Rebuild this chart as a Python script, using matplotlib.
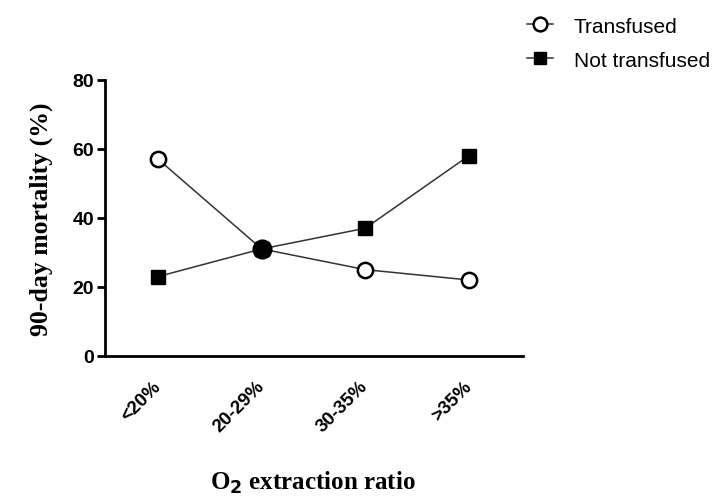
import matplotlib.pyplot as plt

categories = ['<20%', '20-29%', '30-35%', '>35%']
transfused = [57, 31, 25, 22]
not_transfused = [23, 31, 37, 58]
y_ticks = [0, 20, 40, 60, 80]

fig = plt.figure(figsize=(7.21, 5.02), dpi=100)
ax = fig.add_axes([0.146, 0.289, 0.579, 0.55])

x = list(range(len(categories)))
ax.plot(x, not_transfused, color='#333333', lw=1.1, marker='s', ms=9.5,
        mfc='black', mec='black', label='Not transfused', zorder=2)
ax.plot(x, transfused, color='#333333', lw=1.1, marker='o', ms=11,
        mfc='white', mec='black', mew=1.8, label='Transfused', zorder=3)
# where both groups coincide the symbols merge into a filled dot
same = [i for i in x if transfused[i] == not_transfused[i]]
ax.plot(same, [transfused[i] for i in same], ls='none', marker='o', ms=13.5,
        mfc='black', mec='black', zorder=4)

ax.set_xlim(-0.51, 3.52)
ax.set_ylim(0, 80)
ax.set_yticks(y_ticks)
ax.set_xticks(x)
ax.set_xticklabels(categories, rotation=45, ha='right', va='center',
                   rotation_mode='anchor', fontsize=13.5, fontweight='bold',
                   family='Liberation Sans')
for lab in ax.get_yticklabels():
    lab.set_fontsize(14)
    lab.set_fontweight('bold')
    lab.set_family('Liberation Sans')

for s in ['top', 'right']:
    ax.spines[s].set_visible(False)
for s in ['left', 'bottom']:
    ax.spines[s].set_linewidth(2)
ax.tick_params(axis='y', width=2, length=6, direction='out', pad=2)
ax.tick_params(axis='x', length=0, pad=20)

ax.set_ylabel('90-day mortality (%)', family='Liberation Serif',
              fontweight='bold', fontsize=18.5, labelpad=14)
fig.text(0.434, 0.024, r'O$_\mathbf{2}$ extraction ratio', ha='center', va='baseline',
         family='Liberation Serif', fontweight='bold', fontsize=18)

handles, labels = ax.get_legend_handles_labels()
fig.legend(handles[::-1], labels[::-1], loc='upper left',
           bbox_to_anchor=(527 / 721, 0.965), frameon=False,
           prop={'family': 'Liberation Sans', 'size': 15},
           handlelength=1.25, handletextpad=1.0, labelspacing=0.72,
           markerscale=0.9, borderaxespad=0, borderpad=0)

fig.savefig('out.png', dpi=100)
